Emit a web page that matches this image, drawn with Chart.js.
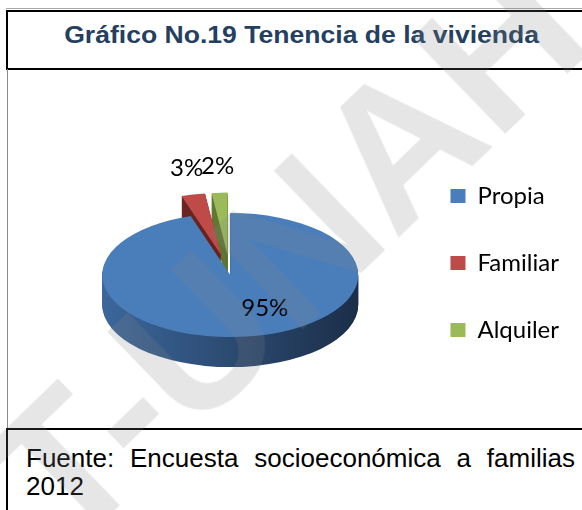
<!DOCTYPE html>
<html>
<head>
<meta charset="utf-8">
<script src="https://cdn.jsdelivr.net/npm/chart.js@4.4.0/dist/chart.umd.min.js"></script>
<style>
  body { margin: 0; width: 582px; height: 510px; overflow: hidden; background: #fff; position: relative; font-family: "Liberation Sans", Arial, sans-serif; }
  .topline { position: absolute; left: 6px; top: 8px; width: 600px; height: 1px; background: #a6a6a6; }
  .titlebox { position: absolute; left: 6px; top: 10px; width: 600px; height: 56px; border: 2px solid #000; border-right: none; }
  .titlebox h1 { position: absolute; left: 0; top: 0; width: 588px; margin: 0; line-height: 46px; text-align: center; font-size: 23px; font-weight: bold; color: #243F60; }
  .titlebox h1 span { display: inline-block; transform: scaleX(1.155); }
  .frame { position: absolute; left: 7px; top: 69px; width: 600px; height: 359px; border-left: 1px solid #8c8c8c; }
  .chartbox { position: absolute; left: 8px; top: 71px; width: 574px; height: 356px; }
  .footer { position: absolute; left: 6px; top: 428px; width: 600px; height: 90px; border-top: 2px solid #000; border-left: 2px solid #000; }
  .footer div { position: absolute; left: 18px; width: 549px; font-size: 26px; line-height: 28px; color: #000; white-space: nowrap; }
  .footer .l1 { top: 14px; text-align: justify; text-align-last: justify; white-space: normal; }
  .footer .l2 { top: 42px; }
  .mark { position: absolute; left: 285px; top: 252px; transform: translate(-50%, -50%) rotate(-44deg); font: bold 195px "Liberation Sans", Arial, sans-serif; color: rgba(128,128,128,0.2); white-space: nowrap; pointer-events: none; }
</style>
</head>
<body>
<div class="topline"></div>
<div class="titlebox"><h1><span>Gráfico No.19 Tenencia de la vivienda</span></h1></div>
<div class="frame"></div>
<div class="chartbox"><canvas id="myChart"></canvas></div>
<div class="footer">
  <div class="l1">Fuente: Encuesta socioeconómica a familias</div>
  <div class="l2">2012</div>
</div>
<div class="mark">T-UNAH</div>

<script>
// data
var categories = ['Propia', 'Familiar', 'Alquiler'];
var percentages = [95, 3, 2];
var sliceColors = ['#4A7EBB', '#BE4B48', '#9BBB59'];
var sideColors = [['#3C679B', '#1B2E48'], ['#7A2A28', '#4B1716'], ['#6F8A3C', '#4C5F26']];

// fake 3D: squash the pie and stack darker copies under it
var pie3d = {
  id: 'pie3d',
  afterUpdate: function (chart, args, opts) {
    var arcs = chart.getDatasetMeta(0).data;
    arcs.forEach(function (a, i) {
      var e = opts.explode[i] || 0;
      if (!e) return;
      var mid = (a.startAngle + a.endAngle) / 2;
      a.x += Math.cos(mid) * e;
      a.y += Math.sin(mid) * e;
    });
  },
  beforeDatasetsDraw: function (chart, args, opts) {
    var ctx = chart.ctx;
    var arcs = chart.getDatasetMeta(0).data;
    var cx = arcs[0].x, cy = arcs[0].y, R = arcs[0].outerRadius;
    ctx.save();
    ctx.translate(cx, cy + opts.shiftY);
    ctx.scale(1, opts.tilt);
    ctx.translate(-cx, -cy);
    var fills = opts.sideColors.map(function (c) {
      var g = ctx.createLinearGradient(cx - R, 0, cx + R, 0);
      g.addColorStop(0, c[0]);
      g.addColorStop(1, c[1]);
      return g;
    });
    for (var d = opts.depth; d >= 1; d--) {
      ctx.save();
      ctx.translate(0, d / opts.tilt);
      arcs.forEach(function (a, i) {
        ctx.fillStyle = fills[i];
        ctx.beginPath();
        ctx.moveTo(a.x, a.y);
        ctx.arc(a.x, a.y, a.outerRadius, a.startAngle, a.endAngle);
        ctx.closePath();
        ctx.fill();
      });
      ctx.restore();
    }
  },
  afterDatasetsDraw: function (chart, args, opts) {
    var ctx = chart.ctx;
    ctx.restore();

    // percentage labels
    var arcs = chart.getDatasetMeta(0).data;
    var cy = arcs[0].y;
    ctx.save();
    ctx.font = '24px Lato';
    ctx.fillStyle = '#000';
    arcs.forEach(function (a, i) {
      var mid = (a.startAngle + a.endAngle) / 2;
      var big = percentages[i] > 50;
      var r = big ? a.outerRadius * 0.55 : a.outerRadius + 30;
      var px = a.x + Math.cos(mid) * r;
      var py = a.y + Math.sin(mid) * r;
      var sy = cy + opts.shiftY + (py - cy) * opts.tilt;
      ctx.textAlign = big ? 'left' : 'center';
      ctx.textBaseline = big ? 'middle' : 'bottom';
      ctx.fillText(percentages[i] + '%', px, sy);
    });
    ctx.restore();
  }
};

var ctx = document.getElementById('myChart');
var myChart = new Chart(ctx, {
  type: 'pie',
  data: {
    labels: categories,
    datasets: [{
      data: percentages,
      backgroundColor: sliceColors,
      borderWidth: 0,
      radius: 128,
      clip: false
    }]
  },
  options: {
    responsive: true,
    maintainAspectRatio: false,
    animation: false,
    radius: 128,
    layout: { padding: { top: 28, left: 45, right: 13 } },
    plugins: {
      legend: {
        position: 'right',
        labels: {
          boxWidth: 15,
          boxHeight: 14,
          padding: 43,
          color: '#000',
          font: { family: 'Lato', size: 24 }
        }
      },
      tooltip: { enabled: false },
      pie3d: {
        tilt: 0.485,
        depth: 30,
        shiftY: 12,
        explode: [0, 42, 42],
        sideColors: sideColors
      }
    }
  },
  plugins: [pie3d]
});
</script>
</body>
</html>
